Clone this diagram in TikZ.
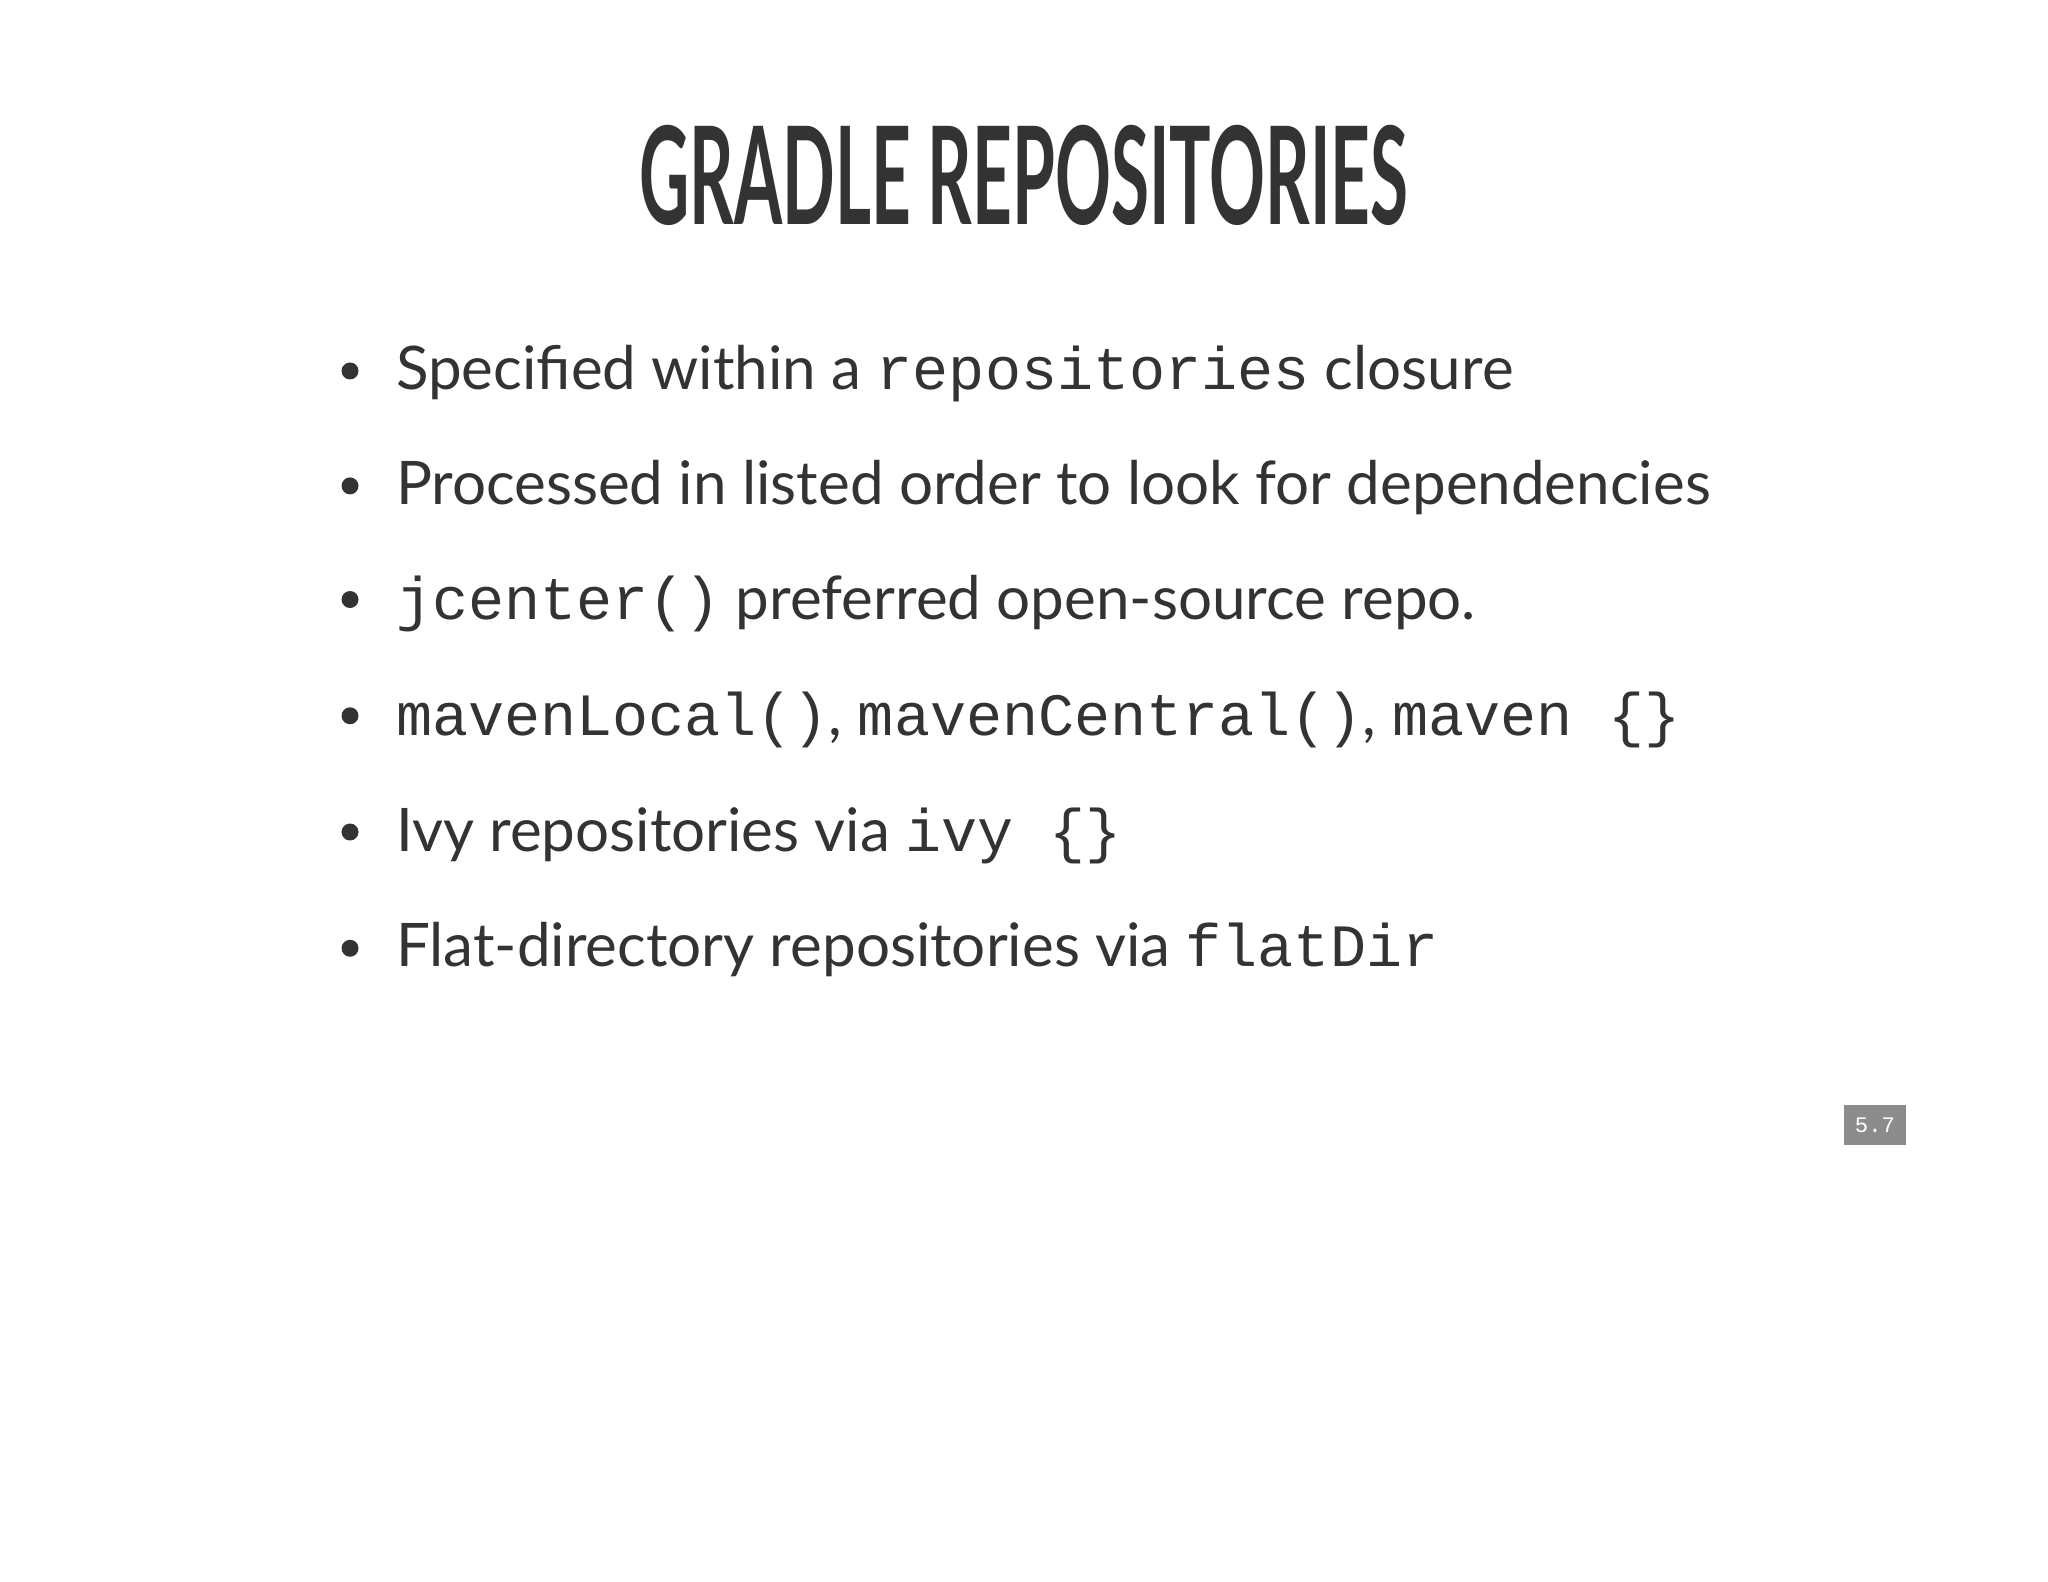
\documentclass[tikz,border=0pt]{standalone}
\usepackage{fontspec}
\setmainfont{Lato}
\setmonofont{Liberation Mono}
\definecolor{txt}{HTML}{333333}
\begin{document}
\begin{tikzpicture}[x=1pt,y=-1pt,
  line/.style={anchor=base west,inner sep=0pt,text=txt,font=\fontsize{46}{50}\selectfont}]
\useasboundingbox (0,0) rectangle (1568,1211);
\fill[white] (0,0) rectangle (1568,1211);
\node[anchor=base,inner sep=0pt,text=txt] (title) at (784,172)
  {\scalebox{0.51}[1]{\fontsize{104}{110}\selectfont\bfseries GRADLE REPOSITORIES}};
\foreach \y/\n in {284/1,372/2,459/3,548/4,637/5,726/6}{\fill[txt] (268,\y) circle[radius=6.5pt] coordinate (b\n);}
\node[line] (l1) at (303,298) {Specified within a \texttt{repositories} closure};
\node[line] (l2) at (303,386) {Processed in listed order to look for dependencies};
\node[line] (l3) at (303,474) {\texttt{jcenter()} preferred open-source repo.};
\node[line] (l4) at (303,563) {\texttt{mavenLocal()},\hspace{12pt}\texttt{mavenCentral()},\hspace{12pt}\texttt{maven \{\}}};
\node[line] (l5) at (303,652) {Ivy repositories via \texttt{ivy \{\}}};
\node[line] (l6) at (303,740) {Flat-directory repositories via \texttt{flatDir}};
\node[fill=black!45,text=white,minimum width=47pt,minimum height=31pt,inner sep=0pt,
  font=\ttfamily\fontsize{17}{20}\selectfont] (num) at (1435.5,861.5) {5.7};
\end{tikzpicture}
\end{document}
